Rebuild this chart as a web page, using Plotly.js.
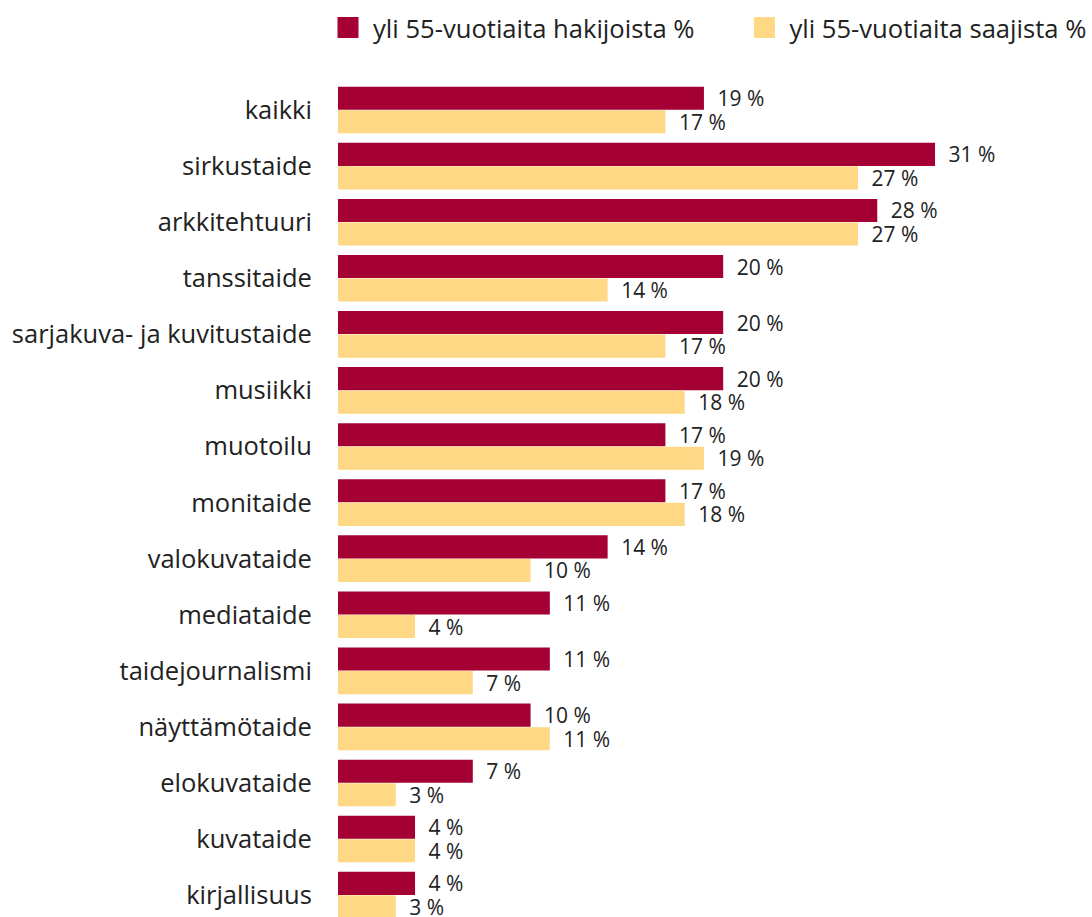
<!DOCTYPE html>
<html>
<head>
<meta charset="utf-8">
<script src="https://cdn.plot.ly/plotly-3.0.1.min.js"></script>
<style>html,body{margin:0;padding:0;background:#fff;overflow:hidden;}</style>
</head>
<body>
<div id="chart" style="width:1092px;height:917px;"></div>
<script>
const categories = ["kaikki","sirkustaide","arkkitehtuuri","tanssitaide","sarjakuva- ja kuvitustaide","musiikki","muotoilu","monitaide","valokuvataide","mediataide","taidejournalismi","näyttämötaide","elokuvataide","kuvataide","kirjallisuus"];
const hakijat = [19,31,28,20,20,20,17,17,14,11,11,10,7,4,4];
const saajat = [17,27,27,14,17,18,19,18,10,4,7,11,3,4,3];
const seriesNames = ["yli 55-vuotiaita hakijoista %","yli 55-vuotiaita saajista %"];
const colors = ["#A50034","#FFD885"];

const font = "'Open Sans', 'Noto Sans', sans-serif";
const txtColor = "#222222";

function barTrace(vals, i) {
  return {
    type: "bar", orientation: "h", y: categories, x: vals,
    name: seriesNames[i], showlegend: false,
    marker: {color: colors[i], line: {width: 0}},
    text: vals.map(v => "\u2002" + v + " %"),
    textposition: "outside", cliponaxis: false, constraintext: "none",
    textfont: {family: font, size: 21, color: txtColor},
    hoverinfo: "skip"
  };
}
function legendTrace(i) {
  return {
    type: "scatter", mode: "markers", x: [null], y: [null],
    name: seriesNames[i] + (i === 0 ? "\u00a0\u00a0\u00a0\u00a0\u00a0\u00a0" : ""),
    showlegend: true,
    marker: {symbol: "square", size: 16, color: colors[i], line: {width: 5, color: colors[i]}}
  };
}

const data = [barTrace(hakijat,0), barTrace(saajat,1), legendTrace(0), legendTrace(1)];
const layout = {
  width: 1092, height: 917,
  margin: {l: 338, r: 0, t: 82, b: 0, pad: 0},
  paper_bgcolor: "#fff", plot_bgcolor: "#fff",
  barmode: "group", bargap: 0.16, bargroupgap: 0.02,
  font: {family: font, color: txtColor},
  xaxis: {range: [0, 39.15], visible: false, fixedrange: true},
  yaxis: {
    type: "category", range: [14.39, -0.5],
    showgrid: false, zeroline: false, showline: false,
    ticks: "outside", ticklen: 20, tickcolor: "rgba(0,0,0,0)",
    tickfont: {family: font, size: 25.5, color: txtColor}
  },
  showlegend: true,
  legend: {
    orientation: "h", x: -0.015, xanchor: "left", y: 1.0647, yanchor: "middle",
    font: {family: font, size: 25.6, color: txtColor},
    itemwidth: 40, bgcolor: "rgba(0,0,0,0)"
  }
};
Plotly.newPlot("chart", data, layout, {staticPlot: true, displayModeBar: false});
</script>
</body>
</html>
